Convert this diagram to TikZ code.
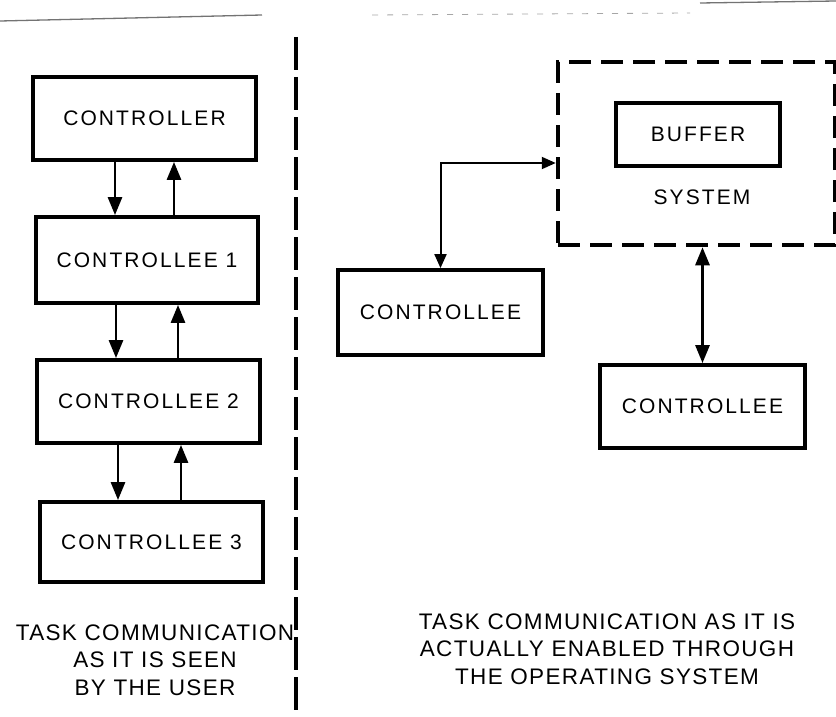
\documentclass[tikz,border=0pt]{standalone}
\usepackage{fontspec}
\setmainfont{Liberation Sans}
\newfontfamily\boxfont[LetterSpace=10]{Liberation Sans}
\newfontfamily\capfont[LetterSpace=6]{Liberation Sans}
\usetikzlibrary{arrows.meta}
\begin{document}
\begin{tikzpicture}[x=1pt,y=-1pt,
  box/.style={draw, line width=3.8pt, inner sep=0pt, font=\boxfont\fontsize{21}{25}\selectfont},
  sysframe/.style={draw, line width=4.5pt, dash pattern=on 22pt off 10pt, inner sep=0pt},
  link/.style={line width=2.8pt, -{Triangle[length=18pt,width=14pt]}},
  biglink/.style={line width=2.8pt, {Triangle[length=18pt,width=14pt]}-{Triangle[length=18pt,width=14pt]}},
  thinlink/.style={line width=2pt, {Triangle[length=14pt,width=12pt]}-{Triangle[length=14pt,width=12pt]}},
  caption/.style={align=center, font=\capfont\fontsize{22.5}{27.5}\selectfont, inner sep=0pt},
  divider/.style={line width=3.5pt, dash pattern=on 33pt off 7pt}]
\useasboundingbox (0,0) rectangle (836,717);

% scan noise at top edge
\draw[black!55, line width=1.3pt] (0,21) -- (262,15);
\draw[black!55, line width=1.3pt] (700,3) -- (836,1);
\draw[black!35, line width=0.8pt, dash pattern=on 6pt off 9pt] (372,15) -- (690,13);

% divider
\coordinate (dtop) at (296,37);
\coordinate (dbot) at (296,717);
\draw[divider] (dtop) -- (dbot);

% left column
\node[box, minimum width=223pt, minimum height=83pt] (ctrl) at (144.5,118.5) {CONTROLLER};
\node[box, minimum width=222pt, minimum height=86pt] (c1) at (147,260) {CONTROLLEE 1};
\node[box, minimum width=223pt, minimum height=83pt] (c2) at (148.5,401.5) {CONTROLLEE 2};
\node[box, minimum width=223pt, minimum height=80pt] (c3) at (151.5,542) {CONTROLLEE 3};

\coordinate (a1) at (115,0);  \coordinate (b1) at (174,0);
\coordinate (a2) at (116,0);  \coordinate (b2) at (178,0);
\coordinate (a3) at (118,0);  \coordinate (b3) at (181,0);
\draw[link] (a1 |- ctrl.south) -- (a1 |- c1.north);
\draw[link] (b1 |- c1.north) -- (b1 |- ctrl.south);
\draw[link] (a2 |- c1.south) -- (a2 |- c2.north);
\draw[link] (b2 |- c2.north) -- (b2 |- c1.south);
\draw[link] (a3 |- c2.south) -- (a3 |- c3.north);
\draw[link] (b3 |- c3.north) -- (b3 |- c2.south);

\node[caption] (capl) at (155,660) {TASK COMMUNICATION\\AS IT IS SEEN\\BY THE USER};

% right column
\node[sysframe, minimum width=277pt, minimum height=183pt] (sys) at (696.5,153.5) {};
\node[box, minimum width=164pt, minimum height=63pt] (buf) at (698,134.5) {BUFFER};
\node[font=\boxfont\fontsize{21}{25}\selectfont, inner sep=0pt] (syslbl) at (702,197) {SYSTEM};
\node[box, minimum width=205pt, minimum height=85pt] (lc) at (440.5,312.5) {CONTROLLEE};
\node[box, minimum width=205pt, minimum height=83pt] (rc) at (702.5,406.5) {CONTROLLEE};

\draw[thinlink] (lc.north) |- ([yshift=-9.5pt]sys.west);
\draw[biglink] (rc.north |- sys.south) -- (rc.north);

\node[caption] (capr) at (607,649) {TASK COMMUNICATION AS IT IS\\ACTUALLY ENABLED THROUGH\\THE OPERATING SYSTEM};
\end{tikzpicture}
\end{document}
